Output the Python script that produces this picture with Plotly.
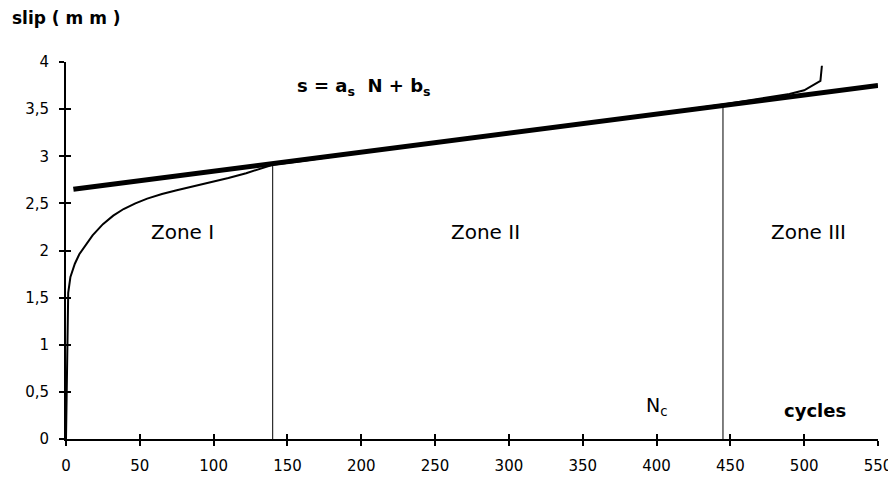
import plotly.graph_objects as go

cycles = [0, 0.5, 1, 1.5, 3, 6, 9, 13, 18, 25, 32, 39, 47, 55, 65, 75, 86, 98,
          110, 122, 132, 140, 160, 200, 250, 300, 350, 400, 445, 470, 490, 500, 511, 512]
slip = [0, 0.6, 1.3, 1.55, 1.72, 1.86, 1.96, 2.05, 2.16, 2.28, 2.37, 2.44, 2.50, 2.55,
        2.60, 2.64, 2.68, 2.72, 2.77, 2.82, 2.87, 2.91, 2.95, 3.04, 3.14, 3.24, 3.35,
        3.45, 3.55, 3.61, 3.66, 3.70, 3.80, 3.96]

# linear fit s = a_s N + b_s
fit_n = [5, 550]
fit_s = [2.65, 3.75]

# zone boundaries
zone_n = [140, 445]
zone_top = [2.91, 3.55]

x_ticks = list(range(0, 551, 50))
y_ticks = [0, 0.5, 1, 1.5, 2, 2.5, 3, 3.5, 4]

FONT = "DejaVu Sans, Arial, sans-serif"

fig = go.Figure()

# zone boundary lines
for n, top in zip(zone_n, zone_top):
    fig.add_trace(go.Scatter(x=[n, n], y=[0, top], mode="lines",
                             line=dict(color="black", width=1), showlegend=False))

fig.add_trace(go.Scatter(x=fit_n, y=fit_s, mode="lines",
                         line=dict(color="black", width=5), showlegend=False))
fig.add_trace(go.Scatter(x=cycles, y=slip, mode="lines",
                         line=dict(color="black", width=2), showlegend=False))

annotations = [
    dict(x=79, y=2.2, text="Zone I", font=dict(size=20)),
    dict(x=284, y=2.2, text="Zone II", font=dict(size=20)),
    dict(x=503, y=2.2, text="Zone III", font=dict(size=20)),
    dict(x=202, y=3.73, text="<b>s = a<sub>s</sub>  N + b<sub>s</sub></b>", font=dict(size=18)),
    dict(x=400, y=0.34, text="N<sub>c</sub>", font=dict(size=19)),
    dict(x=507, y=0.3, text="<b>cycles</b>", font=dict(size=18)),
]
for a in annotations:
    a["font"].update(family=FONT, color="black")
    a.update(xref="x", yref="y", showarrow=False)

annotations.append(dict(x=-0.069, y=1.117, xref="paper", yref="paper",
                        xanchor="left", yanchor="middle", showarrow=False,
                        text="<b>slip ( m m )</b>",
                        font=dict(family=FONT, size=17, color="black")))

axis_common = dict(showgrid=False, zeroline=False, ticklen=5, tickwidth=1.5,
                   tickcolor="black", automargin=False)

fig.update_layout(
    width=896, height=482,
    margin=dict(l=58, r=26, t=54, b=51),
    plot_bgcolor="white", paper_bgcolor="white",
    separators=", ",
    font=dict(family=FONT, size=15, color="black"),
    annotations=annotations,
    xaxis=dict(range=[0, 550], tickvals=x_ticks, showline=True, linecolor="black",
               linewidth=2, ticks="outside", ticklabelstandoff=7, **axis_common),
    yaxis=dict(range=[0, 4], tickvals=y_ticks, showline=True, linecolor="black",
               linewidth=2, ticks="outside", ticklabelstandoff=7, **axis_common),
    xaxis2=dict(range=[0, 550], tickvals=x_ticks, overlaying="x", showticklabels=False,
                ticks="inside", anchor="y", **axis_common),
    yaxis2=dict(range=[0, 4], tickvals=y_ticks, overlaying="y", showticklabels=False,
                ticks="inside", anchor="x", **axis_common),
)
# invisible trace so the inside-tick axes get drawn
fig.add_trace(go.Scatter(x=[0], y=[0], xaxis="x2", yaxis="y2", mode="markers",
                         marker=dict(opacity=0), showlegend=False, hoverinfo="skip"))

fig.write_html("out.html")
